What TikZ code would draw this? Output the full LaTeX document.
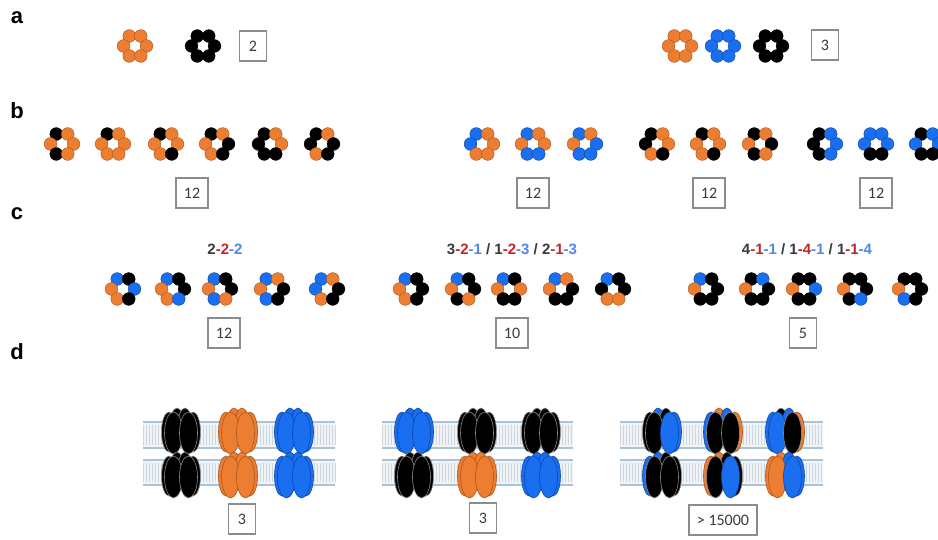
\documentclass[tikz,border=0pt]{standalone}
\usepackage{fontspec}
\setmainfont{Carlito}
\newfontfamily\headfont{Liberation Sans}
\definecolor{ora}{HTML}{ED7D31}
\definecolor{blu}{HTML}{1A6EF0}
\definecolor{blk}{HTML}{000000}
\definecolor{oraD}{HTML}{A8561C}
\definecolor{bluD}{HTML}{0B48A8}
\definecolor{blkD}{HTML}{8A8A8A}
\definecolor{boxgray}{HTML}{8C8C8C}
\definecolor{txtgray}{HTML}{3A3A3A}
\definecolor{numred}{HTML}{C0272D}
\definecolor{numblue}{HTML}{4F86F0}
\definecolor{memedge}{HTML}{A9C3D8}
\definecolor{memfill}{HTML}{F1F4F7}
\definecolor{memtail}{HTML}{CDD6DF}
\tikzset{
  dotK/.style={fill=blk, draw=blk, line width=0.4pt},
  dotO/.style={fill=ora, draw=oraD, line width=0.4pt},
  dotU/.style={fill=blu, draw=bluD, line width=0.4pt},
  recK/.style={fill=blk, draw=blkD, line width=0.6pt},
  recO/.style={fill=ora, draw=oraD, line width=0.6pt},
  recU/.style={fill=blu, draw=bluD, line width=0.6pt},
  rowlab/.style={font=\headfont\bfseries\fontsize{22}{22}\selectfont, text=black, inner sep=0pt},
  countbox/.style={draw=boxgray, line width=1.3pt, fill=white, minimum height=30pt,
    minimum width=27pt, inner xsep=8pt, inner ysep=0pt, text=txtgray,
    font=\fontsize{16}{16}\selectfont},
  combolab/.style={font=\headfont\bfseries\fontsize{15}{15}\selectfont, text=txtgray, inner sep=0pt}
}
% hexameric ring: centre x, centre y, then subunits TL TR L R BL BR
\newcommand\hexring[8]{%
  \path[dot#3] ({#1-5.75},{#2-9.96}) circle[radius=6.4pt];
  \path[dot#4] ({#1+5.75},{#2-9.96}) circle[radius=6.4pt];
  \path[dot#5] ({#1-11.5},{#2}) circle[radius=6.4pt];
  \path[dot#6] ({#1+11.5},{#2}) circle[radius=6.4pt];
  \path[dot#7] ({#1-5.75},{#2+9.96}) circle[radius=6.4pt];
  \path[dot#8] ({#1+5.75},{#2+9.96}) circle[radius=6.4pt];
}
% one layer of a receptor complex: centre x, centre y,
% outer-left, inner-left, inner-right, outer-right (back), front-left, front-right
\newcommand\rlayer[8]{%
  \path[rec#3] ({#1-12},{#2+1}) ellipse[x radius=7.5pt, y radius=20pt];
  \path[rec#6] ({#1+12},{#2+1}) ellipse[x radius=7.5pt, y radius=20pt];
  \path[rec#4] ({#1-4},{#2-3}) ellipse[x radius=7.5pt, y radius=20pt];
  \path[rec#5] ({#1+4},{#2-3}) ellipse[x radius=7.5pt, y radius=20pt];
  \path[rec#7] ({#1-7.5},{#2+2}) ellipse[x radius=9pt, y radius=21pt];
  \path[rec#8] ({#1+7.5},{#2+2}) ellipse[x radius=9pt, y radius=21pt];
}
% lipid bilayer band between two heights
\newcommand\bilayer[4]{%
  \fill[memfill] (#1,#3) rectangle (#2,#4);
  \pgfmathtruncatemacro\tailnext{#1+3}%
  \foreach \xx in {#1,\tailnext,...,#2} {\draw[memtail, line width=0.5pt] (\xx,{#3+3}) -- (\xx,{#4-3});}
  \draw[memedge, line width=1.8pt] (#1,#3) -- (#2,#3);
  \draw[memedge, line width=1.8pt] (#1,#4) -- (#2,#4);
}
\newcommand\membrane[2]{\bilayer{#1}{#2}{422}{448}\bilayer{#1}{#2}{460}{485}}
\begin{document}
\begin{tikzpicture}[x=1pt, y=-1pt]
\clip (0,0) rectangle (938,540);
\fill[white] (0,0) rectangle (938,540);

% panel letters
\node[rowlab] (la) at (17,18) {a};
\node[rowlab] (lb) at (17,111) {b};
\node[rowlab] (lc) at (17,214) {c};
\node[rowlab] (ld) at (17,352) {d};

% ---- a: homomers
\hexring{135}{46}{O}{O}{O}{O}{O}{O}
\hexring{203}{46}{K}{K}{K}{K}{K}{K}
\node[countbox] (na1) at (253,46) {2};
\hexring{680}{46}{O}{O}{O}{O}{O}{O}
\hexring{723}{46}{U}{U}{U}{U}{U}{U}
\hexring{771}{46}{K}{K}{K}{K}{K}{K}
\node[countbox] (na2) at (825,45) {3};

% ---- b: two-subunit heteromers
\hexring{62}{144}{K}{O}{O}{O}{K}{O}
\hexring{113}{144}{K}{O}{O}{O}{O}{O}
\hexring{166}{144}{K}{O}{O}{O}{O}{K}
\hexring{217}{144}{K}{O}{O}{K}{O}{K}
\hexring{270}{144}{K}{O}{K}{O}{K}{K}
\hexring{322}{144}{K}{O}{K}{K}{O}{K}
\node[countbox] (nb1) at (192,193) {12};

\hexring{482}{144}{U}{O}{U}{O}{O}{O}
\hexring{533}{144}{U}{O}{O}{O}{U}{U}
\hexring{585}{144}{U}{O}{O}{U}{U}{U}
\node[countbox] (nb2) at (533,193) {12};

\hexring{657}{144}{K}{O}{K}{O}{O}{K}
\hexring{708}{144}{K}{O}{O}{O}{O}{K}
\hexring{760}{144}{K}{O}{O}{K}{K}{O}
\node[countbox] (nb3) at (709,193) {12};

\hexring{825}{144}{K}{U}{K}{U}{K}{U}
\hexring{876}{144}{U}{U}{U}{U}{K}{K}
\hexring{927}{144}{K}{U}{U}{U}{K}{K}
\node[countbox] (nb4) at (876,193) {12};

% ---- c: three-subunit heteromers
\node[combolab] (tc1) at (225,249) {2\textcolor{numred}{-2}\textcolor{numblue}{-2}};
\hexring{123}{289}{U}{K}{O}{U}{O}{K}
\hexring{173}{289}{U}{K}{O}{K}{O}{U}
\hexring{220}{289}{U}{K}{O}{K}{U}{O}
\hexring{272}{289}{U}{O}{O}{K}{U}{K}
\hexring{327}{289}{U}{O}{U}{K}{O}{K}
\node[countbox] (nc1) at (224,333) {12};

\node[combolab] (tc2) at (512,249) {3\textcolor{numred}{-2}\textcolor{numblue}{-1} / 1\textcolor{numred}{-2}\textcolor{numblue}{-3} / 2\textcolor{numred}{-1}\textcolor{numblue}{-3}};
\hexring{411}{289}{U}{K}{O}{K}{O}{K}
\hexring{463}{289}{U}{K}{O}{K}{K}{O}
\hexring{509}{289}{U}{K}{O}{O}{K}{K}
\hexring{561}{289}{U}{O}{O}{K}{K}{K}
\hexring{613}{289}{U}{K}{K}{K}{O}{O}
\node[countbox] (nc2) at (512,333) {10};

\node[combolab] (tc3) at (807,249) {4\textcolor{numred}{-1}\textcolor{numblue}{-1} / 1\textcolor{numred}{-4}\textcolor{numblue}{-1} / 1\textcolor{numred}{-1}\textcolor{numblue}{-4}};
\hexring{706}{289}{U}{K}{O}{K}{K}{K}
\hexring{757}{289}{K}{U}{O}{K}{K}{K}
\hexring{804}{289}{K}{K}{O}{U}{K}{K}
\hexring{855}{289}{K}{K}{O}{K}{K}{U}
\hexring{910}{289}{K}{K}{O}{K}{U}{K}
\node[countbox] (nc3) at (803,333) {5};

% ---- d: receptor complexes in membranes
\membrane{143}{335}
\rlayer{181}{431}{K}{K}{K}{K}{K}{K}
\rlayer{181}{475}{K}{K}{K}{K}{K}{K}
\rlayer{238}{431}{O}{O}{O}{O}{O}{O}
\rlayer{238}{475}{O}{O}{O}{O}{O}{O}
\rlayer{294}{431}{U}{U}{U}{U}{U}{U}
\rlayer{294}{475}{U}{U}{U}{U}{U}{U}
\node[countbox] (nd1) at (242,519) {3};

\membrane{382}{573}
\rlayer{414}{431}{U}{U}{U}{U}{U}{U}
\rlayer{414}{475}{K}{K}{K}{K}{K}{K}
\rlayer{477}{431}{K}{K}{K}{K}{K}{K}
\rlayer{477}{475}{O}{O}{O}{O}{O}{O}
\rlayer{541}{431}{K}{K}{K}{K}{K}{K}
\rlayer{541}{475}{U}{U}{U}{U}{U}{U}
\node[countbox] (nd2) at (483,518) {3};

\membrane{620}{823}
\rlayer{662}{431}{K}{U}{K}{U}{K}{U}
\rlayer{662}{475}{U}{U}{K}{K}{K}{K}
\rlayer{723}{431}{U}{O}{U}{O}{K}{K}
\rlayer{723}{475}{O}{O}{K}{K}{K}{U}
\rlayer{785}{431}{U}{K}{U}{O}{U}{K}
\rlayer{785}{475}{O}{O}{U}{U}{O}{U}
\node[countbox] (nd3) at (723,520) {> 15000};
\end{tikzpicture}
\end{document}
